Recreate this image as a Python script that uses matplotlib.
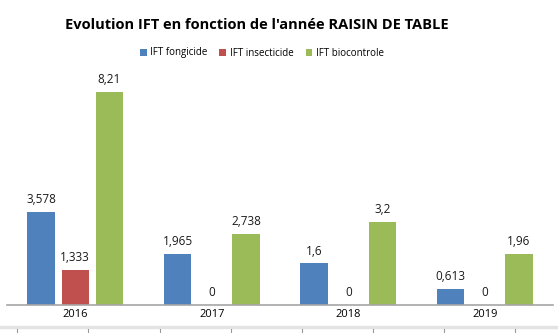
import matplotlib
matplotlib.use("Agg")
import matplotlib.pyplot as plt
from matplotlib.lines import Line2D
import numpy as np

annees = ["2016", "2017", "2018", "2019"]
fongicide = [3.578, 1.965, 1.6, 0.613]
insecticide = [1.333, 0, 0, 0]
biocontrole = [8.21, 2.738, 3.2, 1.96]

labels_fong = ["3,578", "1,965", "1,6", "0,613"]
labels_insect = ["1,333", "0", "0", "0"]
labels_bio = ["8,21", "2,738", "3,2", "1,96"]

plt.rcParams['font.family'] = ['Open Sans', 'DejaVu Sans']

fig = plt.figure(figsize=(5.58, 3.33), dpi=100)
ax = fig.add_axes([7/558, 28.5/333, 546/558, 233/333])

x = np.arange(len(annees))
w = 0.2
d = 0.25
b1 = ax.bar(x - d, fongicide, w, color='#4F81BD', label='IFT fongicide')
b2 = ax.bar(x, insecticide, w, color='#C0504D', label='IFT insecticide')
b3 = ax.bar(x + d, biocontrole, w, color='#9BBB59', label='IFT biocontrole')

for bars, labs in [(b1, labels_fong), (b2, labels_insect), (b3, labels_bio)]:
    ax.bar_label(bars, labels=labs, padding=4, fontsize=8.5, color='#1a1a1a')

ax.set_xlim(-0.5, 3.5)
ax.set_ylim(0, 9)
ax.set_yticks([])
ax.set_xticks(x)
ax.set_xticklabels(annees, fontsize=8)
ax.tick_params(axis='x', length=0, pad=3)
for s in ['top', 'left', 'right']:
    ax.spines[s].set_visible(False)
ax.spines['bottom'].set_color('#a6a6a6')
ax.spines['bottom'].set_linewidth(1.2)

fig.text(257/558, 1 - 25/333, "Evolution IFT en fonction de l'année RAISIN DE TABLE",
         ha='center', va='center', fontsize=10.5, fontweight='bold')
fig.legend(loc='center', bbox_to_anchor=(262/558, 1 - 53/333), ncol=3, frameon=False,
           fontsize=7, handlelength=0.7, handleheight=0.7, handletextpad=0.4,
           columnspacing=1.2)

# spreadsheet cell grid visible below the chart
fig.add_artist(Line2D([0, 1], [1 - 327/333, 1 - 327/333], color='#e3e3e3', lw=2.5))
for xc in [17, 88, 160, 231, 302, 373, 444, 515]:
    fig.add_artist(Line2D([xc/558, xc/558], [0, 1 - 329/333], color='#9a9a9a', lw=0.8))

fig.savefig("out.png", dpi=100)
